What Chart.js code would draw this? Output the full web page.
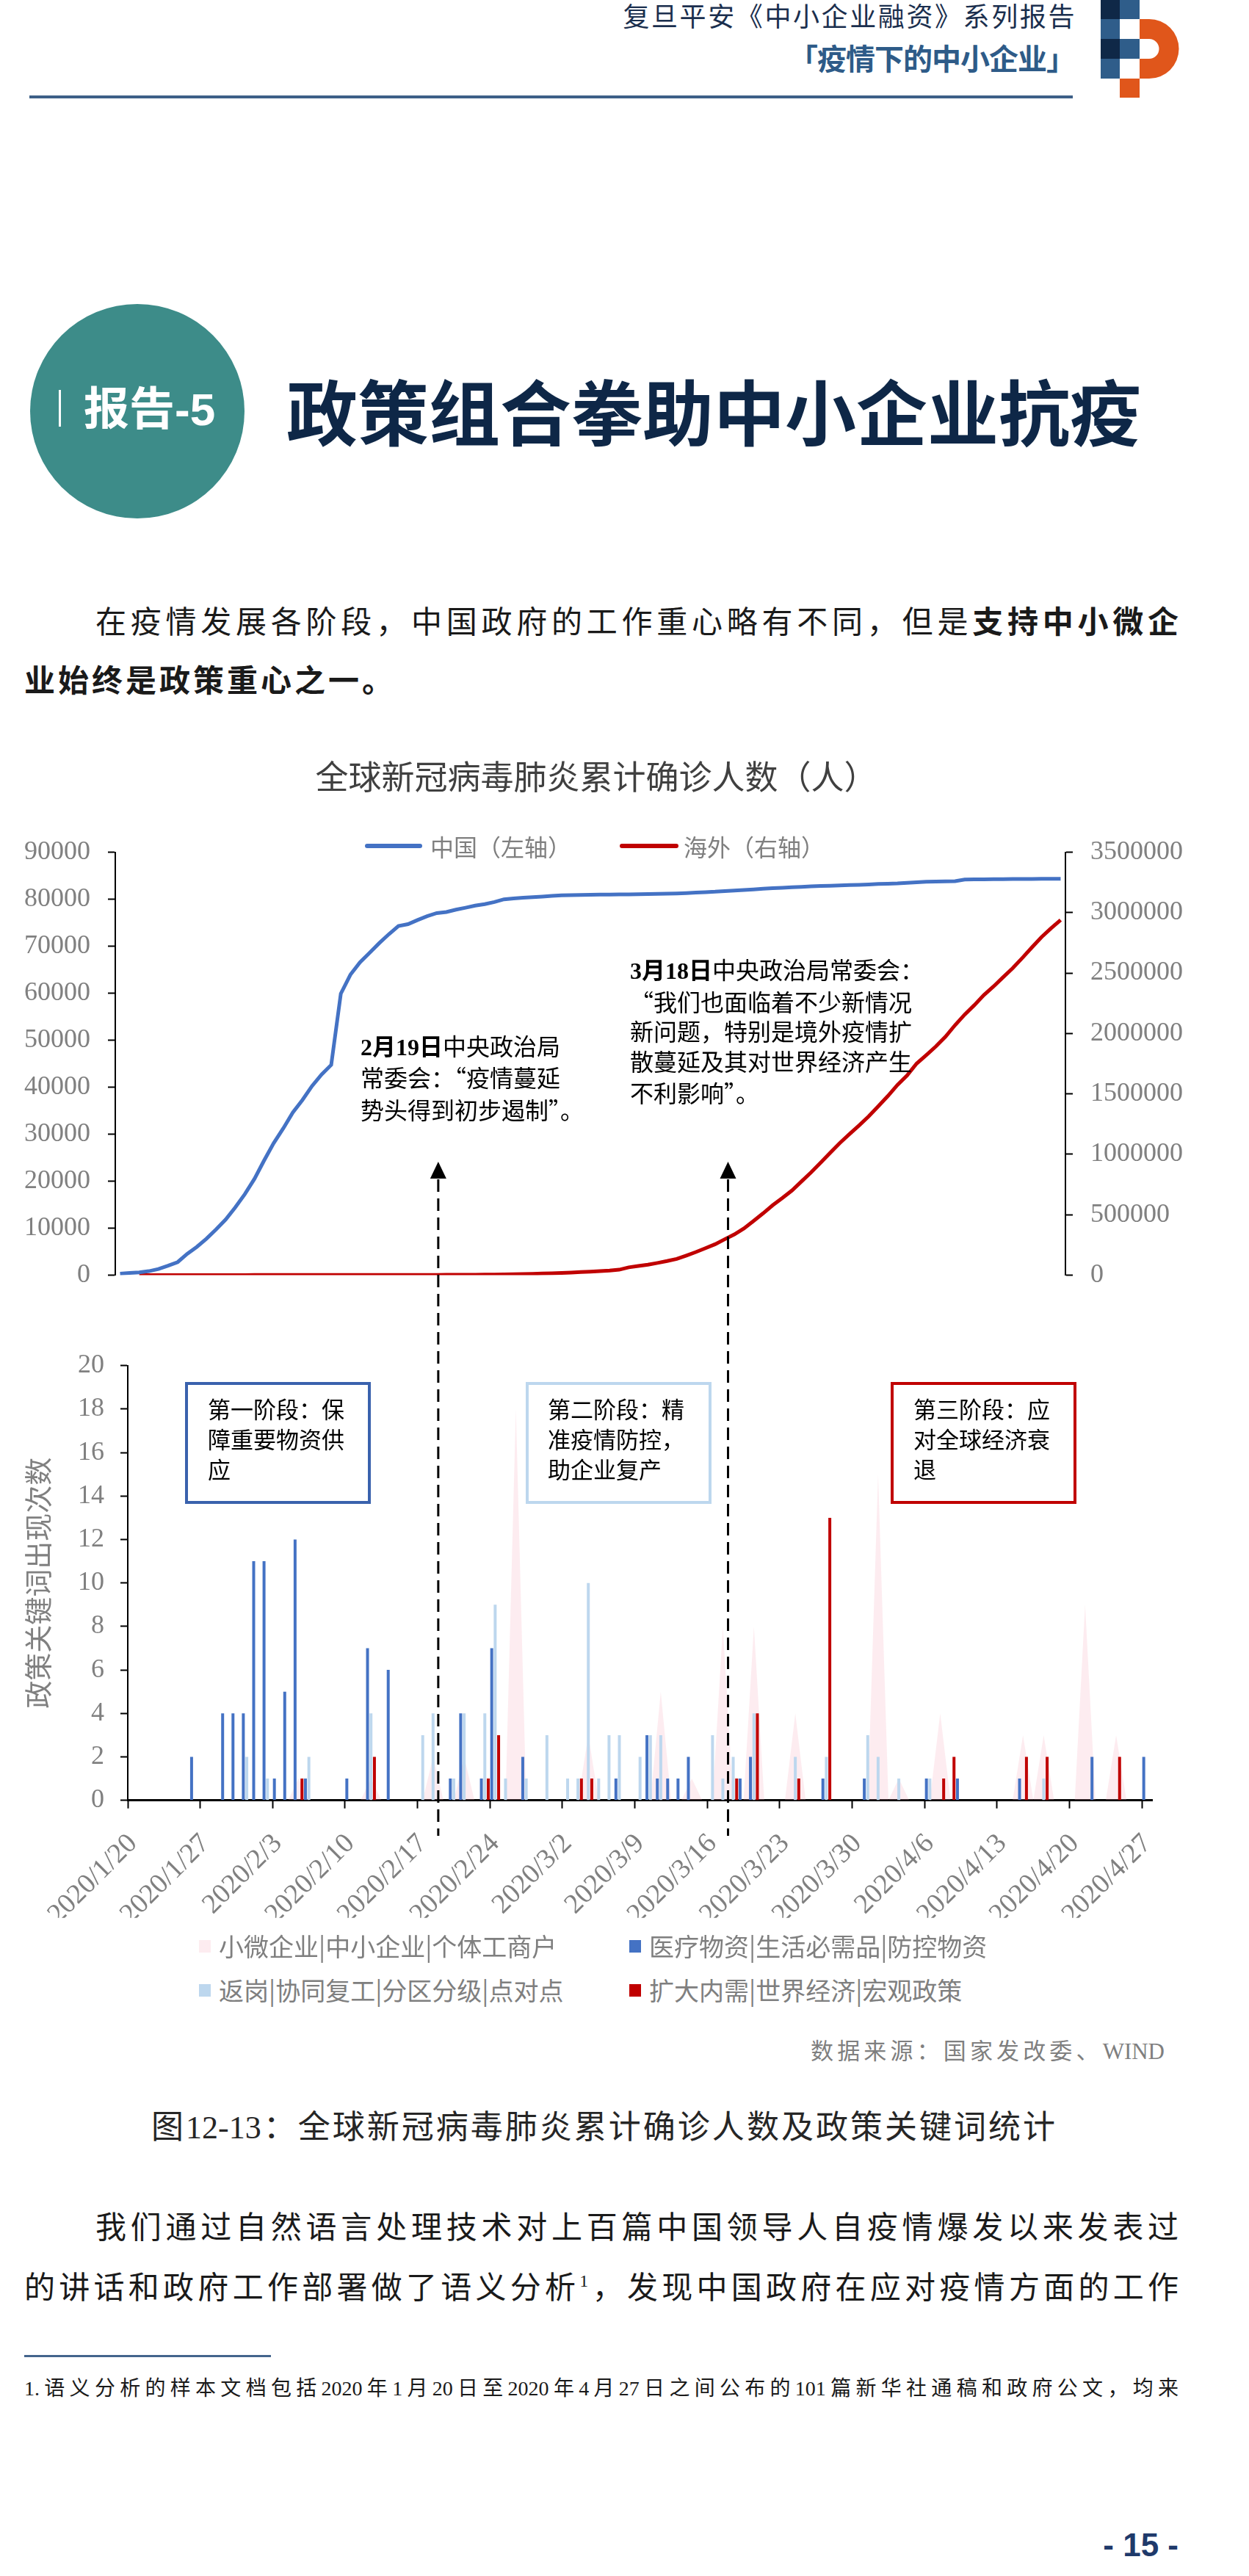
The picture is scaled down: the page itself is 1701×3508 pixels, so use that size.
<!DOCTYPE html>
<html lang="zh-CN">
<head>
<meta charset="utf-8">
<title>政策组合拳助中小企业抗疫</title>
<script src="https://cdn.jsdelivr.net/npm/chart.js@4.4.1/dist/chart.umd.min.js"></script>
<style>
  html, body { margin: 0; padding: 0; background: #fff; }
  #page { position: relative; width: 1701px; height: 3508px; overflow: hidden; background: #fff;
          font-family: "Noto Sans CJK SC", sans-serif; color: #1a1a1a; }
  .abs { position: absolute; white-space: nowrap; }
  canvas { position: absolute; left: 0; }
  .serif { font-family: "Liberation Serif", "Noto Sans CJK SC", serif; }
  .fw { font-family: "Noto Sans CJK SC", sans-serif; font-feature-settings: "fwid" 1; }
  .just { text-align: justify; text-align-last: justify; }
  .stage { position: absolute; box-sizing: border-box; width: 253px; height: 166px; top: 1882px;
           border: 4px solid; font-size: 31px; line-height: 41px; padding-top: 11px; color: #000; white-space: nowrap; }
  .legend-row { position: absolute; display: flex; align-items: center; white-space: nowrap; color: #7f7f7f; }
</style>
</head>
<body>
<div id="page">

  <!-- header -->
  <div class="abs" style="right:235px;top:2px;font-size:36px;line-height:36px;letter-spacing:2.6px;color:#1b2f4e;">复旦平安《中小企业融资》系列报告</div>
  <div class="abs" style="right:237px;top:58px;font-size:40px;line-height:40px;font-weight:bold;letter-spacing:-1px;color:#2e5b88;">「疫情下的中小企业」</div>
  <div class="abs" style="left:40px;top:130px;width:1421px;height:4px;background:#3d5f87;"></div>
  <svg class="abs" style="left:1499px;top:0;" width="110" height="134" viewBox="0 0 110 134">
    <rect x="0" y="0" width="26" height="26" fill="#0f2847"/>
    <rect x="26" y="0" width="27" height="26" fill="#2f5d8a"/>
    <rect x="0" y="26" width="26" height="27" fill="#2f5d8a"/>
    <rect x="0" y="53" width="26" height="27" fill="#0f2847"/>
    <rect x="26" y="53" width="27" height="27" fill="#2f5d8a"/>
    <rect x="0" y="80" width="26" height="27" fill="#2f5d8a"/>
    <rect x="26" y="107" width="27" height="26" fill="#e0561b"/>
    <path fill="#e0561b" fill-rule="evenodd"
          d="M53,26 H66 A40.5,40.5 0 0 1 66,107 H53 Z M53,53 H66 A13.5,13.5 0 0 1 66,80 H53 Z"/>
  </svg>

  <!-- section title -->
  <div class="abs" style="left:41px;top:414px;width:292px;height:292px;border-radius:50%;background:#3d8c89;"></div>
  <div class="abs" style="left:80px;top:531px;width:3px;height:50px;background:#fff;"></div>
  <div class="abs" style="left:114px;top:521px;font-size:62px;line-height:62px;font-weight:bold;color:#fff;">报告<span style="font-family:'Liberation Sans',sans-serif;">-5</span></div>
  <div class="abs" style="left:390px;top:508px;font-size:97px;line-height:97px;font-weight:bold;color:#0e2747;">政策组合拳助中小企业抗疫</div>

  <!-- paragraph 1 -->
  <div class="abs just" style="left:130px;top:823px;width:1475px;font-size:42px;line-height:42px;">在疫情发展各阶段，中国政府的工作重心略有不同，但是<b>支持中小微企</b></div>
  <div class="abs" style="left:33px;top:903px;font-size:42px;line-height:42px;letter-spacing:4px;font-weight:bold;">业始终是政策重心之一。</div>

  <!-- charts -->
  <canvas id="caseChart" width="1624" height="782" style="top:1000px;"></canvas>
  <canvas id="policyChart" width="1701" height="1080" style="top:1560px;"></canvas>

  <div id="caseLegend" class="legend-row" style="left:497px;top:1134px;height:36px;font-size:32px;line-height:36px;"></div>

  <div class="abs serif" style="left:491px;top:1406px;font-size:32px;line-height:40.25px;color:#000;"><b>2月19日</b>中央政治局<br>常委会：<span class="fw">“</span>疫情蔓延<br>势头得到初步遏制<span class="fw">”</span>。</div>
  <div class="abs serif" style="left:858px;top:1302px;font-size:32px;line-height:40.5px;color:#000;"><b>3月18日</b>中央政治局常委会：<br><span class="fw">“</span>我们也面临着不少新情况<br>新问题，特别是境外疫情扩<br>散蔓延及其对世界经济产生<br>不利影响<span class="fw">”</span>。</div>

  <div class="stage" style="left:252px;border-color:#3a62ad;padding-left:27px;">第一阶段：保<br>障重要物资供<br>应</div>
  <div class="stage" style="left:716px;border-color:#bdd7ee;padding-left:26px;">第二阶段：精<br>准疫情防控，<br>助企业复产</div>
  <div class="stage" style="left:1213px;border-color:#c00000;padding-left:27px;">第三阶段：应<br>对全球经济衰<br>退</div>

  <div id="policyLegend"></div>

  <div class="abs serif just" style="left:1104px;top:2778px;width:482px;font-size:31px;line-height:31px;color:#7f7f7f;">数据来源：国家发改委、WIND</div>
  <div class="abs serif just" style="left:206px;top:2876px;width:1231px;font-size:44px;line-height:44px;color:#262626;">图12-13：全球新冠病毒肺炎累计确诊人数及政策关键词统计</div>

  <!-- paragraph 2 -->
  <div class="abs just" style="left:130px;top:3009px;width:1475px;font-size:42px;line-height:42px;">我们通过自然语言处理技术对上百篇中国领导人自疫情爆发以来发表过</div>
  <div class="abs just" style="left:33px;top:3091px;width:1572px;font-size:42px;line-height:42px;">的讲话和政府工作部署做了语义分析<span style="position:relative;top:-16px;font-size:24px;font-family:'Liberation Serif',serif;">1</span>，发现中国政府在应对疫情方面的工作</div>

  <!-- footnote -->
  <div class="abs" style="left:33px;top:3207px;width:336px;height:3px;background:#44658d;"></div>
  <div class="abs serif just" style="left:33px;top:3239px;width:1572px;font-size:28px;line-height:28px;color:#1a1a1a;">1.语义分析的样本文档包括2020年1月20日至2020年4月27日之间公布的101篇新华社通稿和政府公文，均来</div>

  <div class="abs" style="left:1497px;top:3444px;width:108px;text-align:right;font-family:'Liberation Sans',sans-serif;font-weight:bold;font-size:44px;line-height:44px;color:#1f3a6b;">- 15 -</div>
</div>

<script>
// categories: one per day, 2020/1/20 .. 2020/4/27
const dayLabels = [
  '2020/1/20', '2020/1/21', '2020/1/22', '2020/1/23', '2020/1/24', '2020/1/25', '2020/1/26',
  '2020/1/27', '2020/1/28', '2020/1/29', '2020/1/30', '2020/1/31', '2020/2/1', '2020/2/2',
  '2020/2/3', '2020/2/4', '2020/2/5', '2020/2/6', '2020/2/7', '2020/2/8', '2020/2/9',
  '2020/2/10', '2020/2/11', '2020/2/12', '2020/2/13', '2020/2/14', '2020/2/15', '2020/2/16',
  '2020/2/17', '2020/2/18', '2020/2/19', '2020/2/20', '2020/2/21', '2020/2/22', '2020/2/23',
  '2020/2/24', '2020/2/25', '2020/2/26', '2020/2/27', '2020/2/28', '2020/2/29', '2020/3/1',
  '2020/3/2', '2020/3/3', '2020/3/4', '2020/3/5', '2020/3/6', '2020/3/7', '2020/3/8',
  '2020/3/9', '2020/3/10', '2020/3/11', '2020/3/12', '2020/3/13', '2020/3/14', '2020/3/15',
  '2020/3/16', '2020/3/17', '2020/3/18', '2020/3/19', '2020/3/20', '2020/3/21', '2020/3/22',
  '2020/3/23', '2020/3/24', '2020/3/25', '2020/3/26', '2020/3/27', '2020/3/28', '2020/3/29',
  '2020/3/30', '2020/3/31', '2020/4/1', '2020/4/2', '2020/4/3', '2020/4/4', '2020/4/5',
  '2020/4/6', '2020/4/7', '2020/4/8', '2020/4/9', '2020/4/10', '2020/4/11', '2020/4/12',
  '2020/4/13', '2020/4/14', '2020/4/15', '2020/4/16', '2020/4/17', '2020/4/18', '2020/4/19',
  '2020/4/20', '2020/4/21', '2020/4/22', '2020/4/23', '2020/4/24', '2020/4/25', '2020/4/26',
  '2020/4/27'
];

// tick labels shown on the policy chart's date axis
const shownDates = ['2020/1/20', '2020/1/27', '2020/2/3', '2020/2/10', '2020/2/17', '2020/2/24', '2020/3/2',
  '2020/3/9', '2020/3/16', '2020/3/23', '2020/3/30', '2020/4/6', '2020/4/13', '2020/4/20', '2020/4/27'];

// days marked with dashed arrows
const arrowDates = ['2020/2/19', '2020/3/18'];

// cumulative confirmed cases
const chinaCases = [
  291, 440, 572, 833, 1294, 1985, 2760,
  4535, 5997, 7736, 9719, 11821, 14411, 17238,
  20473, 24363, 28062, 31211, 34598, 37251, 40235,
  42708, 44731, 59884, 63935, 66578, 68588, 70639,
  72530, 74281, 74675, 75569, 76393, 77042, 77262,
  77773, 78183, 78621, 78954, 79385, 79964, 80171,
  80298, 80420, 80562, 80709, 80811, 80862, 80909,
  80932, 80958, 80979, 81006, 81029, 81062, 81086,
  81121, 81156, 81218, 81305, 81399, 81491, 81585,
  81727, 81829, 81966, 82083, 82214, 82339, 82427,
  82525, 82617, 82719, 82803, 82864, 82934, 82999,
  83058, 83141, 83232, 83294, 83359, 83472, 83591,
  83693, 83750, 83801, 83832, 84165, 84202, 84227,
  84242, 84255, 84288, 84301, 84310, 84324, 84337,
  84342
];
const overseasCases = [
  null, null, 10, 15, 25, 35, 50,
  60, 70, 80, 100, 130, 140, 150,
  160, 170, 200, 220, 280, 300, 320,
  340, 400, 450, 470, 520, 550, 690,
  800, 820, 940, 1100, 1250, 1450, 1800,
  2100, 2500, 2950, 3700, 4700, 6000, 7200,
  8800, 10600, 12700, 14800, 17500, 21100, 25200,
  28700, 32800, 37400, 44300, 64000, 75000, 86400,
  100500, 116000, 133600, 161300, 190800, 223000, 255400,
  296500, 336200, 385700, 447500, 511100, 578400, 637700,
  699800, 774900, 849900, 930700, 1013100, 1093100, 1166800,
  1238400, 1313300, 1397000, 1482000, 1574200, 1652200, 1751100,
  1821100, 1892400, 1972300, 2068600, 2156000, 2233500, 2317100,
  2387900, 2464800, 2539700, 2624000, 2711300, 2796600, 2870500,
  2939200
];

// policy keyword counts per day
const smeWords = [
  0, 0, 0, 0, 0, 0, 0,
  0, 0, 0, 0, 0, 0, 0,
  0, 0, 1, 0, 0, 0, 0,
  0, 0, 1, 0, 0, 0, 0,
  0, 2, 0, 0, 2, 0, 0,
  0, 0, 18, 0, 0, 0, 0,
  0, 0, 3, 0, 0, 0, 0,
  0, 0, 5, 0, 0, 1, 0,
  0, 8, 0, 0, 8, 0, 0,
  0, 4, 0, 0, 0, 0, 0,
  0, 0, 15, 0, 1, 0, 0,
  0, 4, 0, 0, 0, 0, 0,
  0, 0, 3, 0, 3, 0, 0,
  0, 9, 0, 0, 3, 0, 0,
  0
];
const supplyWords = [
  0, 0, 0, 0, 0, 0, 2,
  0, 0, 4, 4, 4, 11, 11,
  1, 5, 12, 1, 0, 0, 0,
  1, 0, 7, 0, 6, 0, 0,
  0, 0, 0, 1, 4, 0, 1,
  7, 0, 0, 2, 0, 0, 0,
  0, 0, 0, 0, 0, 1, 0,
  0, 3, 1, 1, 1, 2, 0,
  0, 0, 0, 1, 2, 0, 0,
  0, 0, 0, 0, 1, 0, 0,
  0, 1, 0, 0, 0, 0, 0,
  1, 0, 0, 1, 0, 0, 0,
  0, 0, 1, 0, 0, 0, 0,
  0, 0, 2, 0, 0, 0, 0,
  2
];
const resumeWords = [
  0, 0, 0, 0, 0, 0, 0,
  0, 0, 0, 0, 2, 0, 1,
  0, 0, 0, 2, 0, 0, 0,
  0, 0, 4, 0, 0, 0, 0,
  3, 4, 0, 1, 4, 0, 4,
  9, 1, 0, 1, 0, 3, 0,
  1, 1, 10, 1, 3, 3, 0,
  2, 3, 3, 0, 0, 0, 0,
  3, 1, 2, 0, 4, 0, 0,
  0, 2, 0, 0, 2, 0, 0,
  0, 3, 2, 0, 1, 0, 0,
  1, 0, 0, 0, 0, 0, 0,
  0, 0, 0, 0, 1, 0, 0,
  0, 0, 0, 0, 0, 0, 0,
  0
];
const macroWords = [
  0, 0, 0, 0, 0, 0, 0,
  0, 0, 0, 0, 0, 0, 0,
  0, 0, 1, 0, 0, 0, 0,
  0, 0, 2, 0, 0, 0, 0,
  0, 0, 0, 0, 0, 0, 1,
  3, 0, 0, 0, 0, 0, 0,
  0, 1, 1, 0, 0, 0, 0,
  0, 0, 0, 0, 0, 0, 0,
  0, 0, 1, 0, 4, 0, 0,
  0, 1, 0, 0, 13, 0, 0,
  0, 0, 0, 0, 0, 0, 0,
  0, 1, 2, 0, 0, 0, 0,
  0, 0, 2, 0, 2, 0, 0,
  0, 0, 0, 0, 2, 0, 0,
  0
];

const cjk = '"Noto Sans CJK SC", sans-serif';
const serif = '"Liberation Serif", serif';
const axisGray = '#808080';

Chart.defaults.font.family = serif;
Chart.defaults.color = axisGray;

// dashed arrows from the policy chart up into the case chart
const stageArrows = {
    id: 'stageArrows',
    afterDraw(chart) {
        const ctx = chart.ctx;
        const x = chart.scales.x;
        const half = (x.getPixelForValue(1) - x.getPixelForValue(0)) / 2;
        ctx.save();
        ctx.strokeStyle = '#000';
        ctx.fillStyle = '#000';
        ctx.lineWidth = 3;
        arrowDates.forEach(function(d) {
            const px = x.getPixelForValue(dayLabels.indexOf(d)) - half;
            ctx.setLineDash([17, 9]);
            ctx.beginPath();
            ctx.moveTo(px, 46);
            ctx.lineTo(px, 940);
            ctx.stroke();
            ctx.setLineDash([]);
            ctx.beginPath();
            ctx.moveTo(px, 22);
            ctx.lineTo(px - 11, 45);
            ctx.lineTo(px + 11, 45);
            ctx.closePath();
            ctx.fill();
        });
        ctx.restore();
    }
};

const caseChart = new Chart(document.getElementById('caseChart'), {
    type: 'line',
    data: {
        labels: dayLabels,
        datasets: [{
            label: '中国（左轴）',
            data: chinaCases,
            borderColor: '#4472c4',
            backgroundColor: '#4472c4',
            borderWidth: 5,
            pointRadius: 0,
            tension: 0,
            yAxisID: 'y'
        }, {
            label: '海外（右轴）',
            data: overseasCases,
            borderColor: '#c00000',
            backgroundColor: '#c00000',
            borderWidth: 5,
            pointRadius: 0,
            tension: 0,
            yAxisID: 'y2'
        }]
    },
    options: {
        responsive: false,
        animation: false,
        events: [],
        layout: { padding: { top: 31, bottom: 25.4, left: 0, right: 0 } },
        plugins: {
            legend: { display: false },
            tooltip: { enabled: false },
            title: {
                display: true,
                text: '全球新冠病毒肺炎累计确诊人数（人）',
                color: '#404040',
                font: { family: cjk, size: 45, weight: 'normal', lineHeight: 1.2 },
                padding: { top: 0, bottom: 75.5 }
            }
        },
        scales: {
            x: { type: 'category', offset: true, display: false },
            y: {
                position: 'left',
                min: 0,
                max: 90000,
                ticks: { stepSize: 10000, padding: 24, color: axisGray, font: { family: serif, size: 36 },
                         callback: v => String(v) },
                grid: { drawOnChartArea: false, tickLength: 10, tickWidth: 2, tickColor: '#000' },
                border: { color: '#000', width: 2 },
                afterFit(s) { s.width = 157; }
            },
            y2: {
                position: 'right',
                min: 0,
                max: 3500000,
                ticks: { stepSize: 500000, padding: 24, color: axisGray, font: { family: serif, size: 36 },
                         callback: v => String(v) },
                grid: { drawOnChartArea: false, tickLength: 10, tickWidth: 2, tickColor: '#000' },
                border: { color: '#000', width: 2 },
                afterFit(s) { s.width = 173; }
            }
        }
    }
});

const policyChart = new Chart(document.getElementById('policyChart'), {
    type: 'bar',
    data: {
        labels: dayLabels,
        datasets: [{
            type: 'line',
            label: '小微企业|中小企业|个体工商户',
            data: smeWords,
            fill: 'origin',
            backgroundColor: 'rgba(245, 170, 185, 0.22)',
            borderWidth: 0,
            pointRadius: 0,
            tension: 0,
            order: 2
        }, {
            label: '医疗物资|生活必需品|防控物资',
            data: supplyWords,
            backgroundColor: '#4472c4',
            order: 1
        }, {
            label: '返岗|协同复工|分区分级|点对点',
            data: resumeWords,
            backgroundColor: '#bdd7ee',
            order: 1
        }, {
            label: '扩大内需|世界经济|宏观政策',
            data: macroWords,
            backgroundColor: '#c00000',
            order: 1
        }]
    },
    options: {
        responsive: false,
        animation: false,
        events: [],
        datasets: { bar: { categoryPercentage: 1, barPercentage: 0.85, borderWidth: 0 } },
        layout: { padding: { top: 299.7, bottom: 28.3, left: 0, right: 131.6 } },
        plugins: { legend: { display: false }, tooltip: { enabled: false } },
        scales: {
            x: {
                type: 'category',
                offset: true,
                ticks: {
                    autoSkip: false,
                    minRotation: 45,
                    maxRotation: 45,
                    padding: 26,
                    color: axisGray,
                    font: { family: serif, size: 38 },
                    callback: (v, i) => shownDates.includes(dayLabels[i]) ? dayLabels[i] : ''
                },
                grid: {
                    offset: true,
                    drawOnChartArea: false,
                    tickLength: 11,
                    tickWidth: 2,
                    tickColor: c => (c.index % 7 === 0 ? '#000' : 'rgba(0,0,0,0)')
                },
                border: { color: '#000', width: 3 },
                afterFit(s) { s.height = 160; }
            },
            y: {
                min: 0,
                max: 20,
                ticks: { stepSize: 2, padding: 22, color: axisGray, font: { family: serif, size: 36 } },
                grid: { drawOnChartArea: false, tickLength: 10, tickWidth: 2, tickColor: '#000' },
                border: { color: '#000', width: 2 },
                title: {
                    display: true,
                    text: '政策关键词出现次数',
                    color: axisGray,
                    font: { family: cjk, size: 38 },
                    padding: { top: 29, bottom: 0 }
                },
                afterFit(s) { s.width = 174; }
            }
        }
    },
    plugins: [stageArrows]
});

// legends built from the chart datasets
const caseLegend = document.getElementById('caseLegend');
caseChart.data.datasets.forEach(function(ds, i) {
    const line = document.createElement('span');
    line.style.cssText = 'display:inline-block;width:' + (i === 0 ? 78 : 80) + 'px;height:6px;border-radius:3px;margin-right:' + (i === 0 ? 11 : 7) + 'px;background:' + ds.borderColor;
    const text = document.createElement('span');
    text.textContent = ds.label;
    text.style.marginRight = i === 0 ? '66px' : '0';
    caseLegend.appendChild(line);
    caseLegend.appendChild(text);
});

const policyLegend = document.getElementById('policyLegend');
policyChart.data.datasets.forEach(function(ds, i) {
    const row = document.createElement('div');
    row.className = 'legend-row';
    row.style.left = (i % 2 === 0 ? 271 : 857) + 'px';
    row.style.top = (i < 2 ? 2630 : 2690) + 'px';
    row.style.height = '40px';
    row.style.fontSize = '34px';
    row.style.lineHeight = '40px';
    const box = document.createElement('span');
    box.style.cssText = 'display:inline-block;width:16px;height:17px;margin-right:11px;background:' + ds.backgroundColor;
    const text = document.createElement('span');
    text.textContent = ds.label;
    row.appendChild(box);
    row.appendChild(text);
    policyLegend.appendChild(row);
});
</script>
</body>
</html>
